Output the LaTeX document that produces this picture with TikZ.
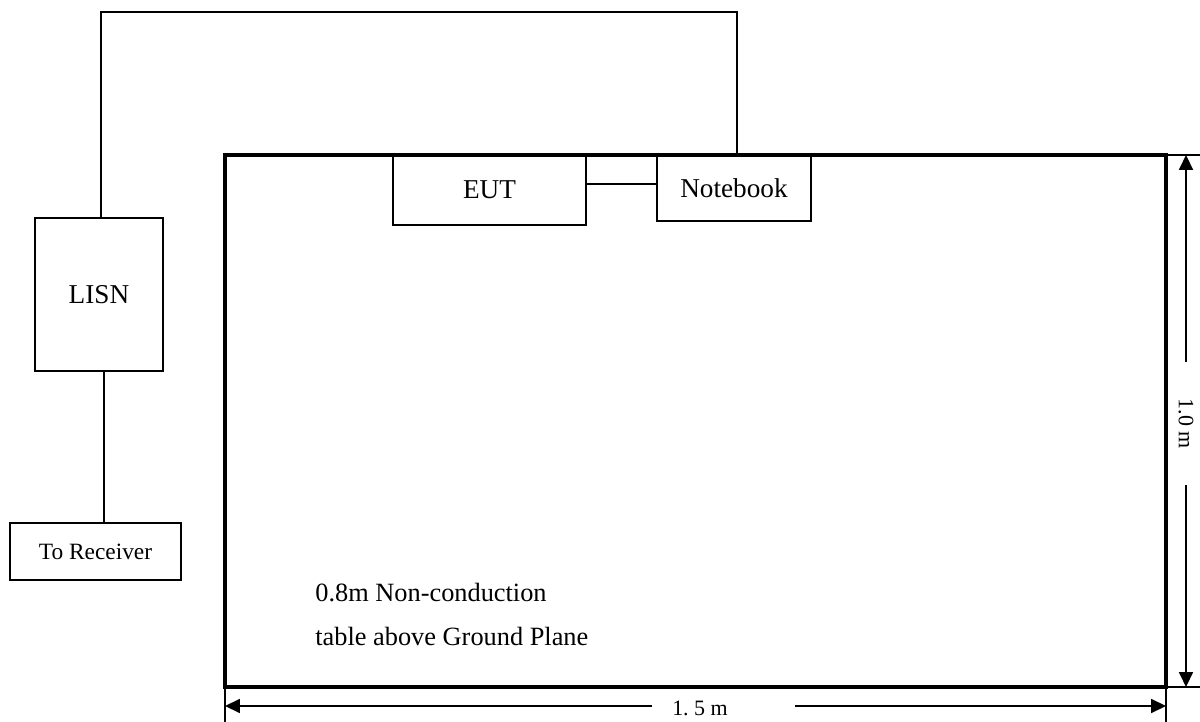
\documentclass[tikz,border=0pt]{standalone}
\usepackage{fontspec}
\setmainfont{Liberation Serif}
\usetikzlibrary{arrows.meta}
\begin{document}
\begin{tikzpicture}[x=0.02cm,y=-0.02cm,
  thinline/.style={line width=0.85pt},
  box/.style={draw,line width=0.85pt,inner sep=0pt,font=\fontsize{15.5}{18}\selectfont},
  dimarrow/.style={line width=0.85pt,-{Triangle[length=8.5pt,width=8pt]}},
  lbl/.style={inner sep=0pt,font=\fontsize{15}{18}\selectfont,anchor=west}]
\useasboundingbox (0,0) rectangle (1200,722);
% table
\draw[line width=2pt] (225,155) rectangle (1166,687);
\coordinate (tTL) at (225,155);
% boxes
\node[box,minimum width=193*0.02cm,minimum height=70*0.02cm] (eut) at (489.5,190) {EUT};
\node[box,minimum width=154*0.02cm,minimum height=66*0.02cm] (nb) at (734,188) {Notebook};
\node[box,minimum width=128*0.02cm,minimum height=153*0.02cm] (lisn) at (99,294.5) {LISN};
\node[box,minimum width=171*0.02cm,minimum height=57*0.02cm,font=\fontsize{13.3}{16}\selectfont] (rx) at (95.5,551.5) {To Receiver};
% connectors
\draw[thinline] (eut.east |- 0,184) -- (nb.west |- 0,184);
\coordinate (c1) at (101,12);
\coordinate (c2) at (737,12);
\draw[thinline] (lisn.north -| c1) -- (c1) -- (c2) -- (nb.north -| c2);
\draw[thinline] (lisn.south -| 104,0) -- (rx.north -| 104,0);
% table label
\node[lbl] (t1) at (315,593) {0.8m Non-conduction};
\node[lbl] (t2) at (315,636) {table above Ground Plane};
% extension lines
\draw[thinline] (1166,155) -- (1200,155);
\draw[thinline] (1166,687) -- (1200,687);
\draw[thinline] (225,687) -- (225,722);
\draw[thinline] (1166,687) -- (1166,722);
% vertical dimension
\node[inner sep=0pt,rotate=-90,font=\fontsize{12.5}{15}\selectfont] (dv) at (1186,424) {1.0 m};
\coordinate (v1) at (1186,155);
\coordinate (v2) at (1186,687);
\draw[dimarrow] (1186,362) -- (v1);
\draw[dimarrow] (1186,485) -- (v2);
% horizontal dimension
\node[inner sep=0pt,font=\fontsize{12.5}{15}\selectfont] (dh) at (700,708) {1.\ 5 m};
\coordinate (h1) at (225,706);
\coordinate (h2) at (1166,706);
\draw[dimarrow] (652,706) -- (h1);
\draw[dimarrow] (795,706) -- (h2);
\end{tikzpicture}
\end{document}
